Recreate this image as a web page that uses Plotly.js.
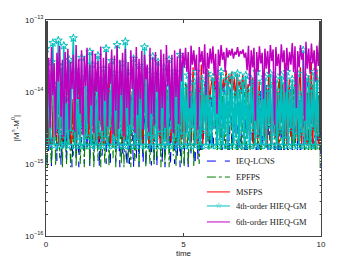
<!DOCTYPE html>
<html><head><meta charset="utf-8">
<script src="https://cdn.plot.ly/plotly-3.0.1.min.js"></script>
<style>html,body{margin:0;padding:0;background:#fff}#c{width:354px;height:267px}</style>
</head><body><div id="c"></div>
<script>
// values in units of 1e-15
const SCALE = 1e-15;
const seriesNames = ["IEQ-LCNS","EPFPS","MSFPS","4th-order HIEQ-GM","6th-order HIEQ-GM"];
const ieqLcns = [1.0,6,1.4,11,0.9,4,2.5,8,1.1,14,3,0.95,7,1.6,10,1.0,5,2.2,12,0.9,
3.5,9,1.2,6.5,0.9,13,2,4.5,1.0,8,1.5,11,0.92,5.5,3,1.1,15,2.4,7,0.9,
9.5,1.3,4,12,1.0,6,2.7,0.9,10,1.8,5,1.05,13,3.2,0.9,7.5,1.4,11,2.1,0.95,
6,1.0,9,2.6,0.9,14,1.2,4.8,0.92,8.5,3,1.0,12,0.9,5.5,1.6,10,0.95,7,1.1,
13,0.9,4,2.3,9,1.0,6.5,0.9,11,1.7,5,0.93,15,2.8,1.0,8,1.3,12,0.9,4.5,7,
1.0,10,2.5,0.9,6,1.4,13,3.3,0.95,8,1.1,11,0.9,5,2,14,1.0,7,3.8,0.92,
9.5,1.2,4.2,12,0.9,6.8,2.2,10,1.0,15,3,0.9,7.5,1.5,11,0.95,5.2,2.6,13,1.0,
8,0.9,4.5,10.5,1.3,6,0.92,12,2.4,9,1.0,14,3.4,0.9,7,1.6,11,0.95,5.5,2,
13,1.0,8.5,0.9,4,10,1.2,6.5,2.8,0.93,12,1.5,9,0.9,15,3.1,1.0,7,11,0.9,
5,2.3,13,1.1,8,0.9,10,3.6,0.95,6,14,1.0,4.2,9.5,0.9,12,2.5,1.0,7.5,11,0.9];
const epfps = [8,0.9,12,2.2,1.0,5,14,0.95,3,9,1.2,6.5,0.9,11,2.6,1.0,15,4,0.9,7,
1.3,10,0.92,5.5,13,1.0,3.4,8,0.9,12,1.6,6,1.0,9.5,2.3,0.9,14,4.5,1.1,7.5,
0.9,11,2.9,1.0,6,13,0.93,3.8,9,1.2,15,0.9,5,2,10.5,1.0,7,0.9,12,3.2,
1.0,8.5,0.9,14,2.5,1.1,6,11,0.9,4.2,9,1.4,13,0.9,7,2.1,1.0,10,5.5,0.95,
12,1.2,3.6,8,0.9,15,2.7,1.0,6.5,11,0.9,4.8,9.5,1.3,14,0.92,5,2.2,10,1.0,7,
0.9,13,3,1.0,8,1.5,11,0.92,5.8,14,2.4,1.0,9,0.9,6.5,12,1.8,4,1.0,10,
0.9,7.2,15,2.9,1.0,5,11.5,0.93,8.8,3.5,1.2,13,0.9,6.2,9.8,1.0,4.4,12,2.2,0.9,
7.8,14,1.1,5.4,10,0.9,3.2,12.5,1.0,8.2,2.6,0.9,15,6,1.3,9.2,0.95,4.6,11,2,
1.0,7,13.5,0.9,5.2,10,2.8,1.1,8.6,14,0.9,3.7,6.8,1.0,12,2.3,0.92,9.4,4.9,1.2,
11,0.9,6.4,13,2.1,1.0,8,15,0.9,4.3,10.2,1.4,7.1,0.95,12.8,3,1.0,5.9,9,0.9,11];
const msfps = [2.0,11,1.8,6,14,1.9,9,2.4,12,1.8,5,10,2.1,16,1.8,7,3,12,1.9,8,
2.2,13,1.8,5.5,10,2,7,15,1.8,4.5,9,2.3,12,1.8,6.5,14,2,8,1.8,11,
3.5,12,1.8,7,2.1,10,15,1.8,5,11,2.4,7.5,1.8,13,4,9,1.9,16,2.2,6,
11,1.8,8,3,14,1.8,5.5,10,2,12,1.8,6.5,15,2.3,8.5,1.8,11,4.5,1.9,13,
6,2.1,10,1.8,14,7,2.5,12,1.8,5,10,2,16,1.8,8,3.5,13,1.8,9,2.2,11,
1.8,13,3,19,1.8,8,22,2.4,11,1.8,17,5,24,1.8,9.5,14,2.1,20,7,12,
16,9,19,11,14,8.5,18,10,15,12,20,9,17,13,19,10.5,16,8,18,12,
14,9.5,17,11,15,8.2,13,2.5,10,16,
1.8,21,6,2.2,14,1.8,9,18,2.6,12,1.8,23,5,1.9,16,8,2.3,11,1.8,20,
4,13,2,25,1.8,7,15,2.4,10,1.8,19,5.5,2.1,12,22,1.8,8,14,2.5,1.8,
17,6,26,1.9,10,2.2,21,1.8,9,15];
const hieq4 = [40,1.8,18,2.2,26,48,1.8,12,3,52,1.8,22,2.5,44,1.9,9,1.8,28,2.8,14,
56,1.8,20,2.1,8,1.8,30,3.5,1.8,16,2.4,11,36,1.8,24,2,9,1.8,32,2.7,
15,1.8,21,2.3,40,1.8,10,3.2,27,1.8,18,2.2,45,1.8,12,2.6,25,1.8,50,2,
19,1.8,8,2.9,29,1.8,14,2.1,23,1.8,10,3.4,42,1.8,20,2.4,12,1.8,31,2.2,
17,1.8,26,2.7,9,1.8,22,2,13,1.8,28,3,11,1.8,19,2.3,15,1.8,33,2.5,24,
1.8,12,2.6,17,1.8,9,3.1,14,1.8,19,2.2,10,1.8,15,2.9,12,1.8,18,2.4,8,
1.8,16,3.3,11,1.8,14,2.1,19,1.8,10,2.7,15,1.8,12,3.6,17,1.8,9,2.3,18,
1.8,11,2.8,14,1.8,17,2.2,10,1.8,15,3,13,1.8,19,2.5,9,1.8,14,2.1,16,
1.8,11,3.4,18,1.8,13,2.4,15,1.8,10,2.9,17,1.8,14,2.2,19,1.8,11,3.1,15,
1.8,12,2.5,18,1.8,9,2.7,38,1.8,16,2.1,14,1.8,11,3.2,19,1.8,15,2.4,12,30];
const hieq6 = [38,6,30,3.2,42,9,25,2.6,35,14,44,4.5,28,2.4,36,7,40,3,26,11,
33,2.8,45,8,29,5,38,2.5,31,12,41,3.6,24,6.5,37,2.7,34,10,27,4,
43,2.9,30,7.5,36,3.3,25,13,39,2.6,32,5.5,44,3.1,28,9,35,2.4,40,6,
26,3.5,38,11,31,2.7,42,4.8,29,8,37,3,33,15,24,2.8,41,5,30,3.4,
36,10,27,2.9,39,6,34,3.2,45,12,28,4,33,2.7,38,8.5,31,3.6,40,14,35,
22,41,19,36,6,44,24,38,20,33,3,42,26,37,18,46,9,35,21,40,
25,43,17,34,5,39,23,45,28,36,19,41,30,38,32,40,29,36,33,42,
31,37,34,39,30,35,20,44,12,38,22,41,4,36,19,43,25,35,8,40,
21,37,18,45,27,39,3.5,42,23,34,17,46,26,38,10,41,20,36,24,48,
19,43,6,37,22,45,28,35,4,50,21,40,18,47,25,38,14,44,23,52,30];
const yTickVals = [1e-16,1e-15,1e-14,1e-13];
const yTickText = ["10<sup>−16</sup>","10<sup>−15</sup>","10<sup>−14</sup>","10<sup>−13</sup>"];
const xTickVals = [0,5,10];
const xTickText = ["0","5","10"];

const colors = ['#0000ff','#008000','#ff0000','#00bfbf','#bf00bf'];
const dashes = ['dash','dashdot','solid','solid','solid'];

function timeFor(arr){ return arr.map((_,i)=> i*10/(arr.length-1)); }
function mk(arr,k,style){
  return Object.assign({x: timeFor(arr), y: arr.map(v=>v*SCALE), name: seriesNames[k], type:'scatter', showlegend:false}, style);
}
const traces = [
  mk(ieqLcns, 0, {mode:'lines', line:{color:colors[0], width:1.1, dash:dashes[0], simplify:false}}),
  mk(epfps, 1, {mode:'lines', line:{color:colors[1], width:1.1, dash:dashes[1], simplify:false}}),
  mk(msfps, 2, {mode:'lines', line:{color:colors[2], width:1.3, simplify:false}}),
  mk(hieq4, 3, {mode:'lines+markers', line:{color:colors[3], width:1.6, simplify:false}, marker:{symbol:'star-open', size:6, color:colors[3], line:{width:1, color:colors[3]}}}),
  mk(hieq6, 4, {mode:'lines', line:{color:colors[4], width:1.5, simplify:false}})
];

// custom legend (paper coordinates)
const legRows = [0.347, 0.273, 0.204, 0.139, 0.065];
const shapes = [{type:'rect', xref:'paper', yref:'paper', x0:0.56, x1:0.995, y0:0.018, y1:0.398,
  fillcolor:'#fff', line:{width:0}, layer:'above'}];
const annotations = [];
seriesNames.forEach((nm,k)=>{
  shapes.push({type:'line', xref:'paper', yref:'paper', x0:0.585, x1:0.669, y0:legRows[k], y1:legRows[k],
    line:{color:colors[k], width:1, dash:dashes[k]}, layer:'above'});
  annotations.push({xref:'paper', yref:'paper', x:0.684, y:legRows[k], xanchor:'left', yanchor:'middle',
    text:nm, showarrow:false, font:{family:'Liberation Serif, Times New Roman, serif', size:8.5, color:'#222'}});
});
annotations.push({xref:'paper', yref:'paper', x:0.627, y:legRows[3], xanchor:'center', yanchor:'middle',
  text:'☆', showarrow:false, font:{family:'DejaVu Sans', size:8, color:colors[3]}});

const axisCommon = {showline:true, linecolor:'#444', linewidth:1, mirror:'allticks', ticks:'inside', ticklen:3, tickcolor:'#444', showgrid:false, zeroline:false,
  tickfont:{family:'Liberation Sans, Arial, sans-serif', size:8, color:'#222'}};
const layout = {
  width:354, height:267, margin:{l:46, r:33, t:20, b:31, pad:0},
  paper_bgcolor:'#fff', plot_bgcolor:'#fff', showlegend:false,
  xaxis: Object.assign({}, axisCommon, {range:[0,10], tickvals:xTickVals, ticktext:xTickText,
    title:{text:'time', font:{family:'Liberation Sans, Arial, sans-serif', size:8, color:'#222'}, standoff:2}}),
  yaxis: Object.assign({}, axisCommon, {type:'log', range:[-16,-13], tickvals:yTickVals, ticktext:yTickText,
    minor:{ticks:'inside', ticklen:2, tickcolor:'#444', showgrid:false},
    title:{text:'|M<sup>n</sup>-M<sup>0</sup>|', font:{family:'Liberation Sans, Arial, sans-serif', size:8, color:'#222'}, standoff:4}}),
  shapes: shapes, annotations: annotations
};
Plotly.newPlot('c', traces, layout, {staticPlot:true, displayModeBar:false});
</script></body></html>
